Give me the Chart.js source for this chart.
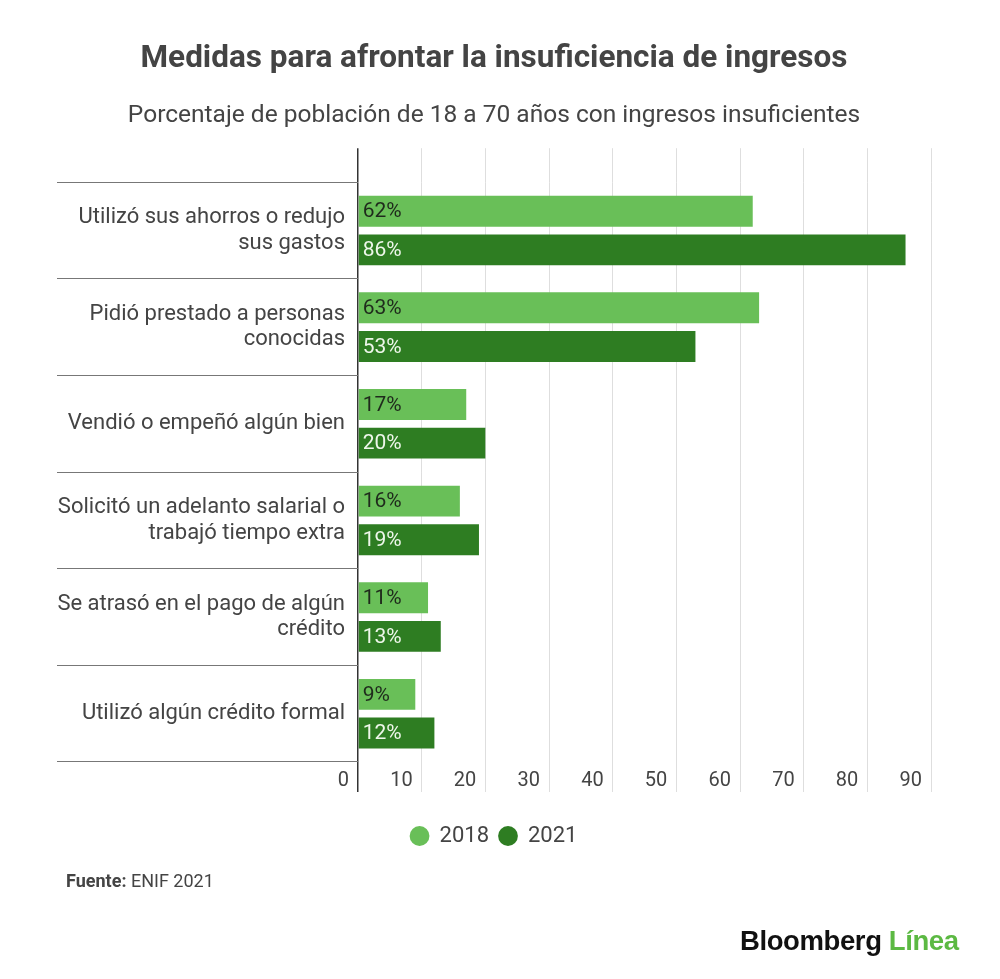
<!DOCTYPE html>
<html>
<head>
<meta charset="utf-8">
<script src="https://cdn.jsdelivr.net/npm/chart.js@4/dist/chart.umd.min.js"></script>
<style>
    body { margin: 0; background: #fff; font-family: Roboto, sans-serif; }
    #wrap { position: relative; width: 1000px; height: 979px; }
    #source { position: absolute; left: 66px; top: 870px; font-size: 18px; color: #444; }
    #logo { position: absolute; left: 740px; top: 925px; font-family: "Liberation Sans", Arial, sans-serif;
            font-weight: bold; font-size: 27.5px; letter-spacing: -0.4px; color: #111; }
    #logo span { color: #5cb943; }
</style>
</head>
<body>
<div id="wrap">
    <canvas id="chart_canvas" width="1000" height="979"></canvas>
    <div id="source"><b>Fuente:</b> ENIF 2021</div>
    <div id="logo">Bloomberg <span>Línea</span></div>
</div>
<script>
/* data */
const categories = [
    ['Utilizó sus ahorros o redujo', 'sus gastos'],
    ['Pidió prestado a personas', 'conocidas'],
    'Vendió o empeñó algún bien',
    ['Solicitó un adelanto salarial o', 'trabajó tiempo extra'],
    ['Se atrasó en el pago de algún', 'crédito'],
    'Utilizó algún crédito formal'
];
const years = ['2018', '2021'];
const values_2018 = [62, 63, 17, 16, 11, 9];
const values_2021 = [86, 53, 20, 19, 13, 12];
const x_ticks = [0, 10, 20, 30, 40, 50, 60, 70, 80, 90];

const light_green = '#69bf58';
const dark_green = '#2e7d22';

Chart.defaults.font.family = 'Roboto';
Chart.defaults.color = '#444';

// writes "62%" etc. just inside the start of each bar
const bar_labels =
{
    id: 'bar_labels',
    afterDatasetsDraw: function (chart)
    {
        const ctx = chart.ctx;
        ctx.save();
        ctx.font = '21px Roboto';
        ctx.textAlign = 'left';
        ctx.textBaseline = 'middle';
        chart.data.datasets.forEach(function (ds, ii)
        {
            ctx.fillStyle = ii === 0 ? '#1f2a1c' : '#eef7ea';
            chart.getDatasetMeta(ii).data.forEach(function (bar, jj)
            {
                ctx.fillText(ds.data[jj] + '%', bar.base + 4, bar.y + 1);
            });
        });
        ctx.restore();
    }
};

function grid_colour (c)
{
    return c.tick && c.tick.value === 0 ? '#333' : '#dedede';
}

const x_grid =
{
    color: grid_colour,
    lineWidth: function (c) { return c.tick && c.tick.value === 0 ? 1.5 : 1; },
    drawTicks: true,
    tickColor: grid_colour
};

const data =
{
    labels: categories,
    datasets: [
        { label: years[0], data: values_2018, backgroundColor: light_green,
          categoryPercentage: 0.8, barPercentage: 0.8 },
        { label: years[1], data: values_2021, backgroundColor: dark_green,
          categoryPercentage: 0.8, barPercentage: 0.8 }
    ]
};

const options =
{
    indexAxis: 'y',
    responsive: false,
    animation: false,
    layout: { padding: { top: 0, left: 57, right: 69, bottom: 122 } },
    scales:
    {
        x:
        {
            min: x_ticks[0],
            max: x_ticks[x_ticks.length - 1],
            afterBuildTicks: function (s) { s.ticks = x_ticks.map(function (v) { return { value: v }; }); },
            grid: Object.assign({ tickLength: 30 }, x_grid),
            border: { display: false },
            ticks:
            {
                align: 'end',
                padding: -23,
                color: '#444',
                font: { size: 20 },
                callback: function (v) { return v + ' \u2009'; }
            },
            afterFit: function (s) { s.height = 53; }
        },
        x2:
        {
            axis: 'x',
            position: 'top',
            min: x_ticks[0],
            max: x_ticks[x_ticks.length - 1],
            afterBuildTicks: function (s) { s.ticks = x_ticks.map(function (v) { return { value: v }; }); },
            grid: Object.assign({ tickLength: 34, drawOnChartArea: false }, x_grid),
            border: { display: false },
            ticks: { display: false }
        },
        y:
        {
            grid: { drawOnChartArea: false, drawTicks: true, tickLength: 301, offset: true,
                    color: '#777', tickColor: '#777' },
            border: { display: false },
            ticks:
            {
                padding: -288,
                color: '#444',
                font: { size: 22, lineHeight: 1.15 }
            },
            afterFit: function (s) { s.width = 301; }
        }
    },
    plugins:
    {
        title:
        {
            display: true,
            text: 'Medidas para afrontar la insuficiencia de ingresos',
            color: '#444',
            font: { size: 31.5, weight: 'bold' },
            padding: { top: 40, bottom: 0 }
        },
        subtitle:
        {
            display: true,
            text: 'Porcentaje de población de 18 a 70 años con ingresos insuficientes',
            color: '#444',
            font: { size: 24.5 },
            padding: { top: 23, bottom: 18 }
        },
        legend:
        {
            position: 'bottom',
            labels:
            {
                usePointStyle: true,
                pointStyle: 'circle',
                boxWidth: 18,
                boxHeight: 14,
                padding: 10,
                color: '#444',
                font: { size: 22 }
            }
        },
        tooltip: { enabled: false }
    }
};

const config = { type: 'bar', data: data, options: options, plugins: [bar_labels] };
const chart = new Chart(document.getElementById('chart_canvas'), config);
</script>
</body>
</html>
